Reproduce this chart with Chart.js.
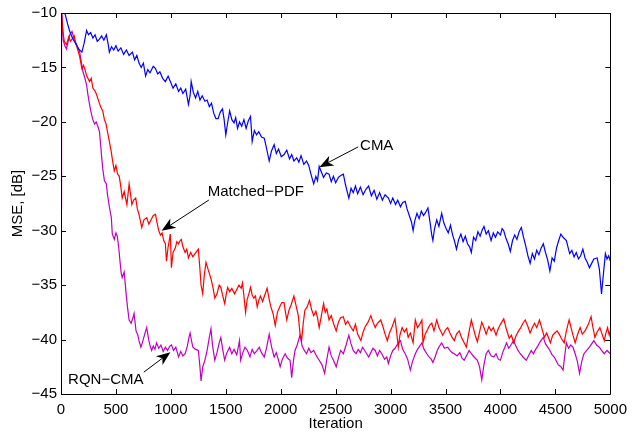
<!DOCTYPE html>
<html>
<head>
<meta charset="utf-8">
<script src="https://cdn.jsdelivr.net/npm/chart.js@4.4.1/dist/chart.umd.min.js"></script>
<style>
  body { margin: 0; background: #fff; }
  #wrap { width: 634px; height: 434px; }
</style>
</head>
<body>
<div id="wrap"><canvas id="mseChart" width="634" height="434"></canvas></div>
<script>
// --- data ---
const cmaIter = [0,20,40,60,80,100,120,140,160,190,210,233,250,270,290,310,330,350,370,390,413,430,440,460,480,500,520,545,570,595,620,650,670,690,710,730,750,770,790,810,840,860,880,900,925,950,975,1000,1020,1045,1070,1090,1110,1135,1160,1175,1185,1205,1225,1245,1265,1285,1310,1330,1350,1370,1390,1410,1430,1450,1470,1485,1500,1515,1535,1555,1575,1590,1607,1625,1645,1665,1685,1705,1725,1740,1760,1780,1800,1825,1850,1870,1895,1915,1940,1960,1980,2005,2030,2055,2080,2100,2120,2145,2165,2185,2210,2235,2255,2275,2300,2320,2335,2350,2370,2390,2415,2440,2460,2480,2500,2525,2550,2570,2590,2605,2620,2640,2660,2680,2700,2725,2750,2775,2800,2825,2850,2875,2900,2925,2950,2980,3000,3020,3045,3065,3090,3110,3133,3150,3170,3190,3205,3220,3240,3260,3280,3300,3320,3340,3360,3375,3385,3400,3420,3440,3465,3485,3505,3525,3545,3565,3580,3600,3620,3640,3660,3680,3700,3720,3735,3755,3775,3795,3815,3835,3850,3870,3890,3915,3935,3955,3975,4000,4015,4030,4050,4070,4090,4110,4130,4150,4170,4190,4210,4230,4250,4270,4290,4310,4330,4350,4370,4390,4410,4430,4450,4470,4490,4510,4530,4550,4570,4600,4615,4630,4650,4670,4690,4710,4730,4750,4770,4790,4810,4830,4850,4880,4900,4920,4935,4955,4970,4985,5000];
const cmaMse = [-9.0,-9.6,-10.2,-11.0,-11.7,-12.2,-12.6,-12.9,-13.3,-13.6,-12.8,-11.6,-12.0,-11.8,-12.3,-12.0,-12.6,-12.4,-12.1,-12.5,-12.0,-12.9,-13.6,-13.1,-13.4,-13.0,-13.5,-13.2,-13.8,-13.4,-13.9,-13.6,-14.3,-13.9,-14.6,-15.0,-14.6,-15.8,-15.2,-15.5,-14.9,-15.1,-15.6,-15.4,-16.0,-16.3,-15.8,-16.4,-16.9,-16.5,-17.2,-16.9,-17.4,-17.0,-18.4,-17.6,-16.3,-17.3,-17.8,-17.2,-18.0,-17.6,-18.1,-18.0,-18.6,-18.3,-19.2,-19.7,-19.7,-19.1,-18.8,-19.8,-21.2,-20.2,-19.0,-19.8,-20.1,-19.6,-20.6,-20.0,-20.4,-19.8,-20.6,-19.9,-19.5,-21.8,-20.8,-21.2,-20.9,-21.4,-21.5,-22.4,-23.6,-22.7,-22.1,-22.9,-22.5,-23.2,-23.0,-22.6,-23.4,-23.0,-23.6,-23.3,-23.7,-23.1,-23.9,-23.6,-24.0,-24.8,-25.7,-25.0,-25.4,-24.1,-24.6,-25.1,-24.7,-24.8,-25.5,-25.0,-25.6,-25.1,-24.9,-24.8,-25.8,-26.4,-27.0,-26.1,-26.5,-25.9,-26.6,-26.0,-26.7,-26.2,-25.9,-26.8,-26.3,-27.1,-26.5,-27.2,-26.7,-27.0,-27.5,-27.0,-27.6,-27.2,-27.8,-27.4,-27.3,-28.0,-28.6,-29.2,-30.0,-29.1,-28.4,-28.9,-28.2,-28.6,-28.3,-27.9,-29.3,-30.4,-30.9,-29.8,-29.0,-29.6,-28.4,-29.3,-29.8,-30.2,-29.5,-30.4,-30.9,-31.7,-30.8,-30.3,-31.0,-30.5,-31.2,-31.5,-32.0,-30.6,-30.9,-30.1,-30.5,-29.9,-29.6,-30.3,-30.0,-30.9,-30.2,-30.6,-30.1,-30.4,-29.8,-30.0,-30.7,-31.2,-31.9,-30.9,-30.4,-30.8,-30.1,-29.7,-30.6,-31.4,-32.3,-33.0,-32.1,-32.6,-31.8,-32.2,-31.6,-31.2,-32.0,-32.7,-33.7,-32.5,-32.8,-31.6,-30.9,-30.3,-30.6,-30.9,-31.5,-32.1,-31.8,-32.4,-32.0,-32.6,-32.3,-31.7,-32.5,-32.9,-33.4,-33.0,-32.6,-32.5,-33.5,-35.8,-34.2,-32.1,-32.6,-32.3,-32.8];

const pdfIter = [0,15,30,50,70,85,100,120,135,150,170,190,205,215,235,260,275,290,305,320,340,360,380,395,410,425,440,455,470,485,500,515,530,545,557,575,600,620,635,645,660,680,695,710,725,735,755,780,800,820,840,860,875,890,905,920,935,950,960,975,995,1005,1020,1040,1055,1070,1085,1095,1110,1130,1145,1160,1180,1200,1220,1235,1250,1262,1275,1290,1305,1320,1340,1365,1385,1400,1420,1440,1455,1470,1490,1505,1517,1535,1555,1580,1600,1620,1640,1652,1665,1680,1695,1710,1725,1740,1755,1770,1786,1800,1815,1835,1855,1876,1895,1910,1930,1950,1970,1990,2010,2030,2045,2055,2075,2095,2120,2140,2160,2175,2190,2205,2220,2240,2262,2280,2300,2320,2335,2350,2370,2390,2405,2420,2440,2460,2480,2505,2525,2545,2570,2590,2610,2635,2660,2680,2700,2715,2730,2750,2770,2795,2820,2840,2860,2880,2910,2930,2950,2970,2990,3015,3040,3055,3070,3085,3105,3125,3145,3160,3180,3205,3225,3245,3265,3285,3295,3315,3340,3355,3375,3395,3420,3440,3460,3475,3500,3520,3540,3560,3580,3600,3625,3645,3665,3690,3710,3735,3755,3770,3790,3810,3830,3850,3870,3895,3915,3935,3960,3980,4000,4030,4050,4065,4080,4100,4120,4140,4165,4185,4205,4225,4250,4270,4290,4310,4330,4355,4375,4400,4420,4440,4455,4475,4495,4515,4535,4555,4580,4600,4625,4645,4660,4680,4700,4725,4745,4770,4800,4825,4840,4860,4880,4905,4925,4945,4960,4975,4990,5000];
const pdfMse = [-9.5,-11.5,-12.6,-12.9,-12.2,-12.6,-12.4,-12.1,-12.8,-13.3,-14.0,-15.1,-14.8,-15.1,-15.8,-16.3,-16.0,-16.9,-17.1,-17.4,-18.0,-18.6,-19.0,-19.8,-20.2,-21.0,-21.8,-22.6,-23.6,-24.5,-24.0,-24.8,-25.0,-26.0,-27.0,-26.4,-27.6,-25.7,-26.8,-27.6,-27.2,-27.0,-28.0,-28.5,-29.2,-29.7,-29.0,-28.8,-29.4,-29.0,-28.6,-28.5,-29.3,-30.0,-30.4,-30.2,-30.9,-31.2,-32.8,-31.5,-30.3,-33.4,-32.0,-31.6,-31.0,-31.2,-30.9,-30.8,-31.5,-32.0,-31.7,-32.5,-32.0,-32.4,-32.1,-31.9,-31.7,-33.2,-35.0,-35.8,-34.0,-32.9,-33.6,-34.4,-35.3,-36.2,-35.8,-35.0,-35.2,-35.9,-36.7,-35.8,-35.2,-35.6,-35.3,-35.8,-35.4,-35.0,-35.3,-34.8,-36.0,-37.5,-36.3,-35.8,-35.2,-35.9,-36.2,-36.0,-37.0,-36.4,-36.0,-36.5,-35.9,-35.3,-36.3,-37.0,-37.6,-38.7,-37.5,-37.0,-36.6,-36.6,-37.6,-38.2,-37.3,-36.8,-36.0,-36.9,-37.8,-39.4,-40.1,-38.5,-37.3,-37.0,-36.4,-37.2,-37.8,-37.4,-38.0,-38.9,-37.8,-36.7,-37.5,-37.2,-38.2,-37.8,-38.5,-39.2,-38.4,-38.0,-37.9,-38.6,-38.3,-38.8,-39.2,-38.6,-39.5,-39.8,-40.1,-39.3,-38.8,-38.4,-37.8,-38.4,-38.9,-38.5,-38.2,-38.8,-39.5,-40.1,-39.4,-38.8,-38.1,-39.3,-40.7,-39.6,-38.9,-39.3,-39.0,-39.8,-39.4,-40.3,-38.2,-38.9,-38.6,-38.2,-40.3,-39.5,-39.0,-38.7,-38.5,-39.2,-38.2,-38.9,-39.3,-39.6,-39.1,-38.9,-39.4,-39.8,-40.1,-39.5,-39.2,-39.8,-40.2,-40.7,-39.5,-38.2,-39.0,-39.6,-40.2,-39.3,-38.4,-38.9,-39.5,-38.8,-39.2,-38.9,-39.6,-39.0,-38.6,-38.1,-38.9,-39.4,-39.9,-39.6,-40.3,-39.7,-39.2,-38.9,-38.5,-38.2,-38.8,-39.4,-38.9,-38.5,-38.9,-38.2,-38.9,-39.8,-39.4,-39.9,-40.3,-39.6,-39.4,-39.2,-39.5,-39.9,-40.3,-39.2,-38.2,-39.0,-39.6,-40.3,-39.6,-38.9,-39.5,-39.2,-38.6,-37.9,-38.8,-39.8,-39.3,-38.9,-39.5,-40.1,-39.4,-38.9,-39.6,-39.2];

const rqnIter = [0,5,20,35,50,65,80,100,120,140,155,170,185,200,215,233,245,260,275,290,305,320,335,350,360,368,380,395,413,422,440,458,467,485,500,512,525,537,548,557,575,593,605,620,638,655,665,683,700,710,727,740,754,768,780,800,812,825,840,855,870,890,910,930,950,970,990,1005,1025,1045,1070,1090,1110,1130,1150,1165,1175,1190,1200,1225,1250,1262,1275,1290,1310,1330,1350,1365,1380,1400,1420,1440,1455,1470,1490,1510,1535,1555,1575,1600,1625,1635,1655,1675,1697,1720,1740,1760,1785,1805,1825,1850,1870,1895,1915,1940,1960,1980,1995,2015,2040,2060,2085,2100,2115,2130,2150,2175,2195,2215,2235,2255,2275,2300,2325,2350,2375,2400,2420,2440,2460,2480,2505,2525,2545,2570,2595,2620,2640,2660,2685,2705,2725,2745,2770,2800,2820,2840,2860,2880,2900,2920,2945,2965,2980,3000,3020,3040,3065,3090,3110,3133,3155,3180,3200,3225,3245,3265,3285,3305,3330,3350,3370,3385,3405,3425,3445,3465,3490,3520,3540,3560,3580,3605,3630,3650,3670,3690,3715,3735,3760,3790,3810,3830,3850,3870,3890,3915,3940,3960,3980,4000,4020,4040,4055,4075,4095,4120,4140,4160,4180,4205,4235,4255,4280,4300,4320,4340,4355,4375,4390,4410,4430,4450,4470,4490,4505,4525,4550,4570,4585,4600,4620,4640,4660,4680,4700,4720,4740,4760,4785,4810,4830,4850,4875,4900,4920,4945,4970,5000];
const rqnMse = [-28.0,-9.0,-12.5,-13.0,-13.3,-12.6,-12.0,-11.7,-12.4,-12.9,-13.2,-13.6,-14.5,-15.4,-15.9,-16.6,-17.5,-18.4,-19.2,-19.8,-20.2,-20.0,-20.4,-20.9,-22.0,-23.0,-24.3,-25.4,-25.7,-26.6,-27.8,-28.8,-30.3,-30.8,-30.2,-30.5,-31.5,-32.8,-33.9,-34.3,-33.8,-35.8,-37.0,-38.2,-38.5,-38.0,-37.6,-39.2,-39.6,-40.1,-40.7,-40.3,-39.8,-39.3,-38.9,-40.1,-40.6,-41.0,-40.6,-40.9,-40.3,-40.8,-40.5,-41.1,-40.7,-41.0,-40.6,-40.5,-41.0,-40.7,-41.6,-41.1,-41.5,-41.3,-40.6,-39.8,-39.4,-40.2,-40.7,-40.9,-41.0,-42.2,-43.8,-42.5,-41.9,-41.0,-39.8,-39.0,-40.6,-41.9,-41.2,-40.3,-39.8,-40.8,-41.9,-41.2,-40.7,-41.3,-40.9,-41.4,-40.1,-41.9,-41.2,-40.7,-41.0,-41.6,-40.9,-41.3,-41.0,-40.7,-41.2,-41.6,-40.8,-39.5,-40.6,-41.6,-41.2,-41.9,-42.5,-41.8,-41.3,-41.7,-41.9,-43.5,-42.0,-41.0,-40.5,-39.6,-40.6,-41.0,-41.3,-40.8,-41.2,-41.0,-41.5,-41.9,-42.3,-43.1,-41.8,-40.7,-41.5,-41.9,-42.5,-41.7,-41.0,-41.3,-40.5,-39.6,-40.4,-41.0,-41.3,-40.9,-41.2,-40.7,-41.1,-41.6,-41.2,-40.8,-41.0,-41.5,-41.0,-41.3,-41.8,-41.6,-42.2,-41.5,-41.0,-40.8,-40.4,-40.1,-40.9,-41.3,-41.8,-42.8,-42.0,-41.3,-40.9,-40.6,-40.3,-40.9,-41.3,-41.6,-41.8,-42.1,-41.6,-41.0,-40.6,-40.3,-40.8,-40.7,-41.0,-41.2,-41.3,-41.5,-41.2,-41.7,-41.9,-41.5,-41.0,-41.3,-41.6,-41.9,-42.5,-43.7,-42.3,-41.3,-41.0,-41.5,-41.6,-41.3,-41.8,-41.9,-41.2,-40.7,-40.3,-40.8,-40.5,-40.1,-40.6,-41.0,-41.3,-41.6,-41.9,-41.5,-41.0,-41.3,-40.9,-40.6,-40.3,-40.0,-39.8,-40.4,-40.7,-41.0,-41.4,-41.6,-41.9,-42.3,-42.5,-42.8,-41.5,-40.3,-40.8,-40.5,-40.7,-41.3,-42.0,-43.1,-42.0,-41.3,-41.0,-40.7,-40.4,-40.1,-40.5,-40.7,-41.0,-41.3,-41.0,-41.3];

// annotations: label, text anchor, arrow tail and tip (data units)
const noteLabels = ['CMA', 'Matched\u2212PDF', 'RQN\u2212CMA'];
const noteAlign = ['left', 'center', 'center'];
const noteTextX = [2722, 1773, 408];
const noteTextY = [-22.25, -26.45, -43.72];
const noteTailX = [2705, 1346, 754];
const noteTailY = [-22.3, -27.18, -42.99];
const noteTipX = [2352, 916, 996];
const noteTipY = [-24.16, -30.01, -41.16];

const FONT = "'Liberation Sans', Arial, Helvetica, sans-serif";
const toPts = (xs, ys) => xs.map((x, i) => ({ x: x, y: ys[i] }));
const minusSign = v => (v < 0 ? '\u2212' + Math.abs(v) : String(v));

// box, inward ticks and arrow annotations
const matlabAxes = {
    id: 'matlabAxes',
    afterDatasetsDraw(chart) {
        const { ctx, chartArea: a, scales: { x, y } } = chart;
        const tl = 5;
        ctx.save();
        ctx.strokeStyle = '#000';
        ctx.lineWidth = 1;
        ctx.beginPath();
        ctx.rect(Math.round(a.left) + 0.5, Math.round(a.top) + 0.5, Math.round(a.right - a.left), Math.round(a.bottom - a.top));
        x.ticks.forEach(t => {
            const px = Math.round(x.getPixelForValue(t.value)) + 0.5;
            ctx.moveTo(px, a.bottom); ctx.lineTo(px, a.bottom - tl);
            ctx.moveTo(px, a.top); ctx.lineTo(px, a.top + tl);
        });
        y.ticks.forEach(t => {
            const py = Math.round(y.getPixelForValue(t.value)) + 0.5;
            ctx.moveTo(a.left, py); ctx.lineTo(a.left + tl, py);
            ctx.moveTo(a.right, py); ctx.lineTo(a.right - tl, py);
        });
        ctx.stroke();

        ctx.fillStyle = '#000';
        ctx.font = '15px ' + FONT;
        ctx.textBaseline = 'middle';
        noteLabels.forEach((label, i) => {
            ctx.textAlign = noteAlign[i];
            ctx.fillText(label, x.getPixelForValue(noteTextX[i]), y.getPixelForValue(noteTextY[i]));
            const x0 = x.getPixelForValue(noteTailX[i]), y0 = y.getPixelForValue(noteTailY[i]);
            const x1 = x.getPixelForValue(noteTipX[i]), y1 = y.getPixelForValue(noteTipY[i]);
            const ang = Math.atan2(y1 - y0, x1 - x0);
            const len = 14, half = 5.5, back = 10;
            ctx.beginPath();
            ctx.moveTo(x0, y0);
            ctx.lineTo(x1 - Math.cos(ang) * back, y1 - Math.sin(ang) * back);
            ctx.stroke();
            ctx.beginPath();
            ctx.moveTo(x1, y1);
            ctx.lineTo(x1 - Math.cos(ang) * len - Math.sin(ang) * half, y1 - Math.sin(ang) * len + Math.cos(ang) * half);
            ctx.lineTo(x1 - Math.cos(ang) * back, y1 - Math.sin(ang) * back);
            ctx.lineTo(x1 - Math.cos(ang) * len + Math.sin(ang) * half, y1 - Math.sin(ang) * len - Math.cos(ang) * half);
            ctx.closePath();
            ctx.fill();
        });
        ctx.restore();
    }
};

const ctx = document.getElementById('mseChart').getContext('2d');
new Chart(ctx, {
    type: 'line',
    data: {
        datasets: [
            { label: 'CMA', data: toPts(cmaIter, cmaMse), borderColor: '#0000ff' },
            { label: 'Matched-PDF', data: toPts(pdfIter, pdfMse), borderColor: '#ff0000' },
            { label: 'RQN-CMA', data: toPts(rqnIter, rqnMse), borderColor: '#bf00bf' }
        ]
    },
    options: {
        responsive: false,
        animation: false,
        devicePixelRatio: 1,
        layout: { padding: { left: 0, right: 16, top: 11, bottom: 0 } },
        elements: { point: { radius: 0 }, line: { borderWidth: 1.2, tension: 0 } },
        plugins: { legend: { display: false }, tooltip: { enabled: false } },
        scales: {
            x: {
                type: 'linear', min: 0, max: 5000,
                grid: { display: false, drawTicks: false },
                border: { display: false },
                ticks: { stepSize: 500, autoSkip: false, maxRotation: 0, padding: 7, color: '#000', font: { family: FONT, size: 15 }, callback: minusSign },
                title: { display: true, text: 'Iteration', color: '#000', font: { family: FONT, size: 15 }, padding: { top: 0, bottom: 1 } },
                afterFit: s => { s.height = 40; }
            },
            y: {
                type: 'linear', min: -45, max: -10,
                grid: { display: false, drawTicks: false },
                border: { display: false },
                ticks: { stepSize: 5, padding: 4, color: '#000', font: { family: FONT, size: 15 }, callback: minusSign },
                title: { display: true, text: 'MSE, [dB]', color: '#000', font: { family: FONT, size: 15 }, padding: { top: 9, bottom: 0 } },
                afterFit: s => { s.width = 61; }
            }
        }
    },
    plugins: [matlabAxes]
});
</script>
</body>
</html>
